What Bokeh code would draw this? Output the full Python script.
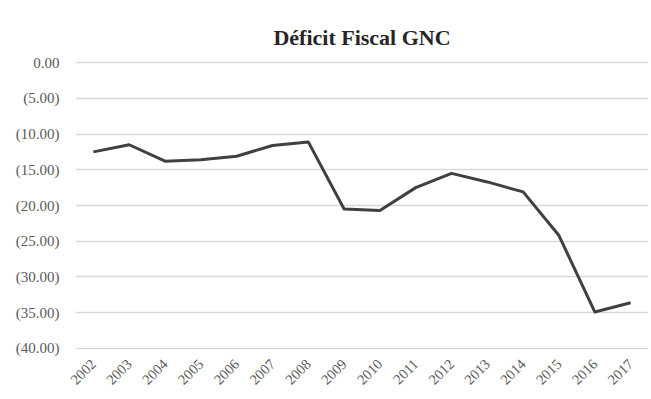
from bokeh.plotting import figure
from bokeh.models import Range1d, FixedTicker
from bokeh.embed import file_html
from bokeh.resources import INLINE
import math

years = ["2002", "2003", "2004", "2005", "2006", "2007", "2008", "2009",
         "2010", "2011", "2012", "2013", "2014", "2015", "2016", "2017"]
deficit = [-12.5, -11.5, -13.8, -13.6, -13.1, -11.6, -11.1, -20.5,
           -20.7, -17.5, -15.5, -16.7, -18.1, -24.2, -34.9, -33.6]
y_ticks = [0, -5, -10, -15, -20, -25, -30, -35, -40]
y_tick_labels = ["0.00", "(5.00)", "(10.00)", "(15.00)", "(20.00)",
                 "(25.00)", "(30.00)", "(35.00)", "(40.00)"]

FONT = "Liberation Serif"
GRAY = "#595959"

p = figure(width=651, height=399, x_range=years, y_range=Range1d(-40.15, 0.15),
           output_backend="svg", toolbar_location=None,
           title="Déficit Fiscal GNC",
           min_border_left=75, min_border_right=3, min_border_top=61, min_border_bottom=50)

p.title.align = "center"
p.title.vertical_align = "top"
p.title.text_font = FONT
p.title.text_font_style = "bold"
p.title.text_font_size = "22px"
p.title.text_color = "#262626"
p.title.offset = 0
p.title.standoff = 20

p.line(x=years, y=deficit, line_color="#404040", line_width=3, line_join="round")

p.yaxis.ticker = FixedTicker(ticks=y_ticks)
p.yaxis.major_label_overrides = {t: l for t, l in zip(y_ticks, y_tick_labels)}
for ax in (p.xaxis, p.yaxis):
    ax.axis_line_color = None
    ax.major_tick_line_color = None
    ax.minor_tick_line_color = None
    ax.major_label_text_font = FONT
    ax.major_label_text_color = GRAY
p.yaxis.major_label_text_font_size = "15px"
p.xaxis.major_label_text_font_size = "14.5px"
p.yaxis.major_label_standoff = 10
p.xaxis.major_label_orientation = math.pi / 4
p.xaxis.major_label_standoff = 6

p.xgrid.grid_line_color = None
p.ygrid.grid_line_color = "#d9d9d9"
p.ygrid.grid_line_width = 1.5
p.outline_line_color = None

open("out.html", "w").write(file_html(p, INLINE))
